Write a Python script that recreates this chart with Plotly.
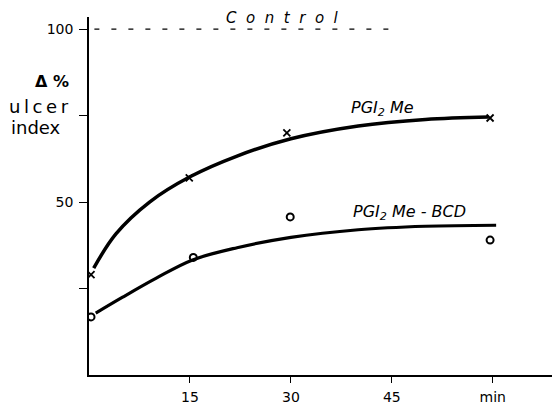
import plotly.graph_objects as go

# Fitted curves
pgi_curve_x = [0.7, 4.0, 9.0, 15.0, 22.0, 30.0, 40.0, 50.0, 59.4]
pgi_curve_y = [30.9, 40.8, 50.0, 57.3, 63.3, 68.3, 72.0, 73.9, 74.6]
bcd_curve_x = [1.0, 5.0, 10.0, 15.3, 22.0, 30.0, 40.0, 50.0, 60.5]
bcd_curve_y = [17.9, 22.5, 28.0, 33.2, 36.8, 39.8, 42.0, 43.0, 43.3]

# Measured points
pgi_pts_x = [0.3, 14.9, 29.4, 59.6]
pgi_pts_y = [29.0, 57.0, 70.0, 74.3]
bcd_pts_x = [0.3, 15.5, 29.9, 59.6]
bcd_pts_y = [16.8, 34.0, 45.7, 39.0]

control_x = [0.8, 45.0]
control_y = [100, 100]

x_tickvals = [15, 30, 45, 60]
x_ticktext = ["15", "30", "45", "min"]
y_tickvals = [25, 50, 75, 100]
y_ticktext = ["", "50", "", "100"]

FONT = "DejaVu Sans, sans-serif"

fig = go.Figure()
fig.add_trace(go.Scatter(x=control_x, y=control_y, mode="lines",
                         line=dict(color="black", width=1.2, dash="5px,12px")))
fig.add_trace(go.Scatter(x=pgi_curve_x, y=pgi_curve_y, mode="lines",
                         line=dict(color="black", width=3.5, shape="spline", smoothing=1.0)))
fig.add_trace(go.Scatter(x=bcd_curve_x, y=bcd_curve_y, mode="lines",
                         line=dict(color="black", width=3.2, shape="spline", smoothing=1.0)))
fig.add_trace(go.Scatter(x=pgi_pts_x, y=pgi_pts_y, mode="markers",
                         marker=dict(symbol="x-thin-open", size=7, color="black",
                                     line=dict(width=1.8, color="black"))))
fig.add_trace(go.Scatter(x=bcd_pts_x, y=bcd_pts_y, mode="markers",
                         marker=dict(symbol="circle-open", size=7, color="black",
                                     line=dict(width=2, color="black"))))

L, R, T, B = 89, 0, 17, 33
W, H = 552, 408
pw, ph = W - L - R, H - T - B

def px(xp):
    return (xp - L) / pw

def py(yp):
    return (H - B - yp) / ph

TS = "\u2009"
annots = [
    dict(text="<i>C  o  n  t  r  o  l</i>", x=px(282), y=py(29), xref="paper", yref="paper",
         yanchor="bottom", showarrow=False, font=dict(size=15, family=FONT, color="black")),
    dict(text="<i>PGI<sub>2</sub> Me</i>", x=43.6, y=77.0, xref="x", yref="y",
         showarrow=False, font=dict(size=16, family=FONT, color="black")),
    dict(text="<i>PGI<sub>2</sub> Me - BCD</i>", x=47.6, y=47.0, xref="x", yref="y",
         showarrow=False, font=dict(size=16, family=FONT, color="black")),
    dict(text="<b>Δ %</b>", x=px(71), y=py(70), xref="paper", yref="paper",
         xanchor="right", showarrow=False, font=dict(size=16, family=FONT, color="black")),
    dict(text=TS.join("ulcer"), x=px(71), y=py(94), xref="paper", yref="paper",
         xanchor="right", showarrow=False, font=dict(size=18, family=FONT, color="black")),
    dict(text="index", x=px(63), y=py(115), xref="paper", yref="paper",
         xanchor="right", showarrow=False, font=dict(size=18, family=FONT, color="black")),
]

fig.update_layout(
    width=W, height=H,
    margin=dict(l=L, r=R, t=T, b=B),
    paper_bgcolor="white", plot_bgcolor="white",
    showlegend=False,
    annotations=annots,
    font=dict(family=FONT, size=14, color="black"),
)
fig.update_xaxes(range=[0, 68.8], showgrid=False, zeroline=False, showline=True,
                 linecolor="black", linewidth=1.5, ticks="outside", ticklen=6,
                 tickwidth=1.2, tickcolor="black", tickvals=x_tickvals, ticktext=x_ticktext,
                 ticklabelstandoff=2, tickfont=dict(size=14, family=FONT))
fig.update_yaxes(range=[0, 103.5], showgrid=False, zeroline=False, showline=True,
                 linecolor="black", linewidth=1.5, ticks="outside", ticklen=8,
                 tickwidth=1.2, tickcolor="black", tickvals=y_tickvals, ticktext=y_ticktext,
                 ticklabelstandoff=3, tickfont=dict(size=14, family=FONT))

fig.write_html("out.html")
